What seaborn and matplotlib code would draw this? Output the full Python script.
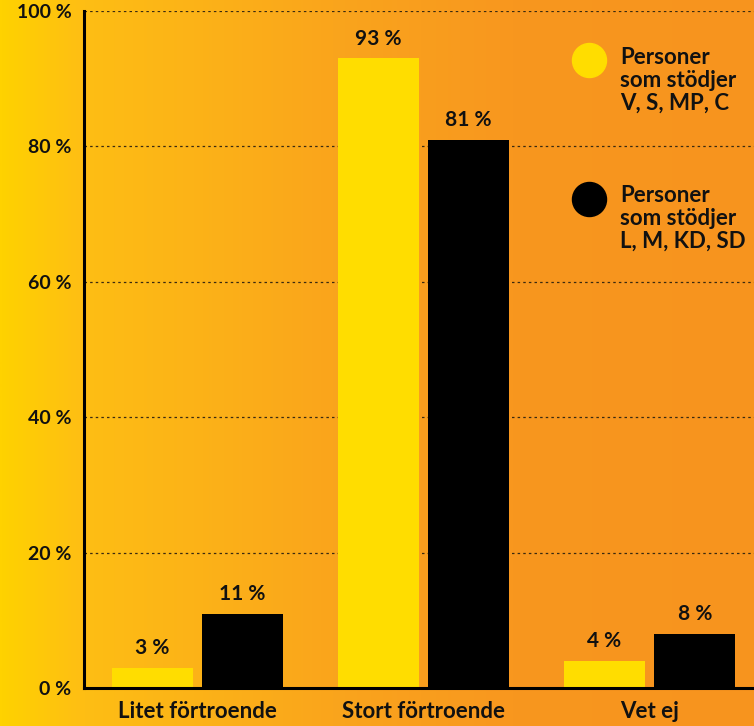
import matplotlib.pyplot as plt
import numpy as np
import pandas as pd
import seaborn as sns
from matplotlib.colors import LinearSegmentedColormap

categories = ["Litet förtroende", "Stort förtroende", "Vet ej"]
groups = ["Personer\nsom stödjer\nV, S, MP, C", "Personer\nsom stödjer\nL, M, KD, SD"]
values_left = [3, 93, 4]
values_right = [11, 81, 8]
y_ticks = [0, 20, 40, 60, 80, 100]
y_tick_labels = ["0 %", "20 %", "40 %", "60 %", "80 %", "100 %"]

bar_colors = ["#FFDD00", "#000000"]

df = pd.DataFrame(
    {
        "category": categories * 2,
        "group": [groups[0]] * 3 + [groups[1]] * 3,
        "value": values_left + values_right,
    }
)

sns.set_theme(style="white")
plt.rcParams["font.family"] = ["Lato", "DejaVu Sans"]

fig = plt.figure(figsize=(7.54, 7.26), dpi=100)

# background gradient yellow -> orange
bg = fig.add_axes([0, 0, 1, 1], zorder=0)
grad_cmap = LinearSegmentedColormap.from_list(
    "bg",
    [(0.0, "#FFD200"), (0.11, "#FEBE14"), (0.44, "#FAA51C"),
     (0.68, "#F8971F"), (1.0, "#F7941E")],
)
bg.imshow(np.linspace(0, 1, 512)[None, :], aspect="auto", cmap=grad_cmap,
          extent=[0, 1, 0, 1])
bg.set_axis_off()

ax = fig.add_axes([84 / 754, 38 / 726, 670 / 754, 677 / 726], zorder=1)
ax.patch.set_alpha(0)

sns.barplot(
    data=df, x="category", y="value", hue="group", palette=bar_colors,
    width=0.8, gap=0.1, saturation=1, linewidth=0, ax=ax, legend=False, zorder=3,
)

for container in ax.containers:
    ax.bar_label(container, labels=[f"{v:.0f} %" for v in container.datavalues],
                 padding=7, fontsize=15, fontweight="bold", color="#111111")

ax.set_xlim(-0.502, 2.462)
ax.set_ylim(0, 100)
ax.set_yticks(y_ticks)
ax.set_yticklabels(y_tick_labels, fontsize=14, fontweight="bold", color="#111111")
ax.tick_params(axis="y", length=0, pad=9)
ax.tick_params(axis="x", length=0, pad=9, labelsize=16, labelcolor="#111111")
for lbl in ax.get_xticklabels():
    lbl.set_fontweight("bold")
ax.set_xlabel("")
ax.set_ylabel("")

for y in y_ticks[1:]:
    ax.axhline(y, color="#3a2a10", linestyle=(0, (2, 2.5)), linewidth=0.9, zorder=1)

for side in ["top", "right"]:
    ax.spines[side].set_visible(False)
for side in ["left", "bottom"]:
    ax.spines[side].set_color("black")
    ax.spines[side].set_linewidth(2.2)
    ax.spines[side].set_zorder(4)

# legend: circle beside the first line of each label
legend_y = [0.927, 0.723]
for color, label, ly in zip(bar_colors, groups, legend_y):
    ax.scatter([0.753], [ly], s=600, color=color, transform=ax.transAxes,
               clip_on=False, zorder=5)
    ax.text(0.8, ly + 0.02, label, transform=ax.transAxes, ha="left", va="top",
            fontsize=16, fontweight="bold", color="#111111", linespacing=1.12)

fig.savefig("out.png", dpi=100)
